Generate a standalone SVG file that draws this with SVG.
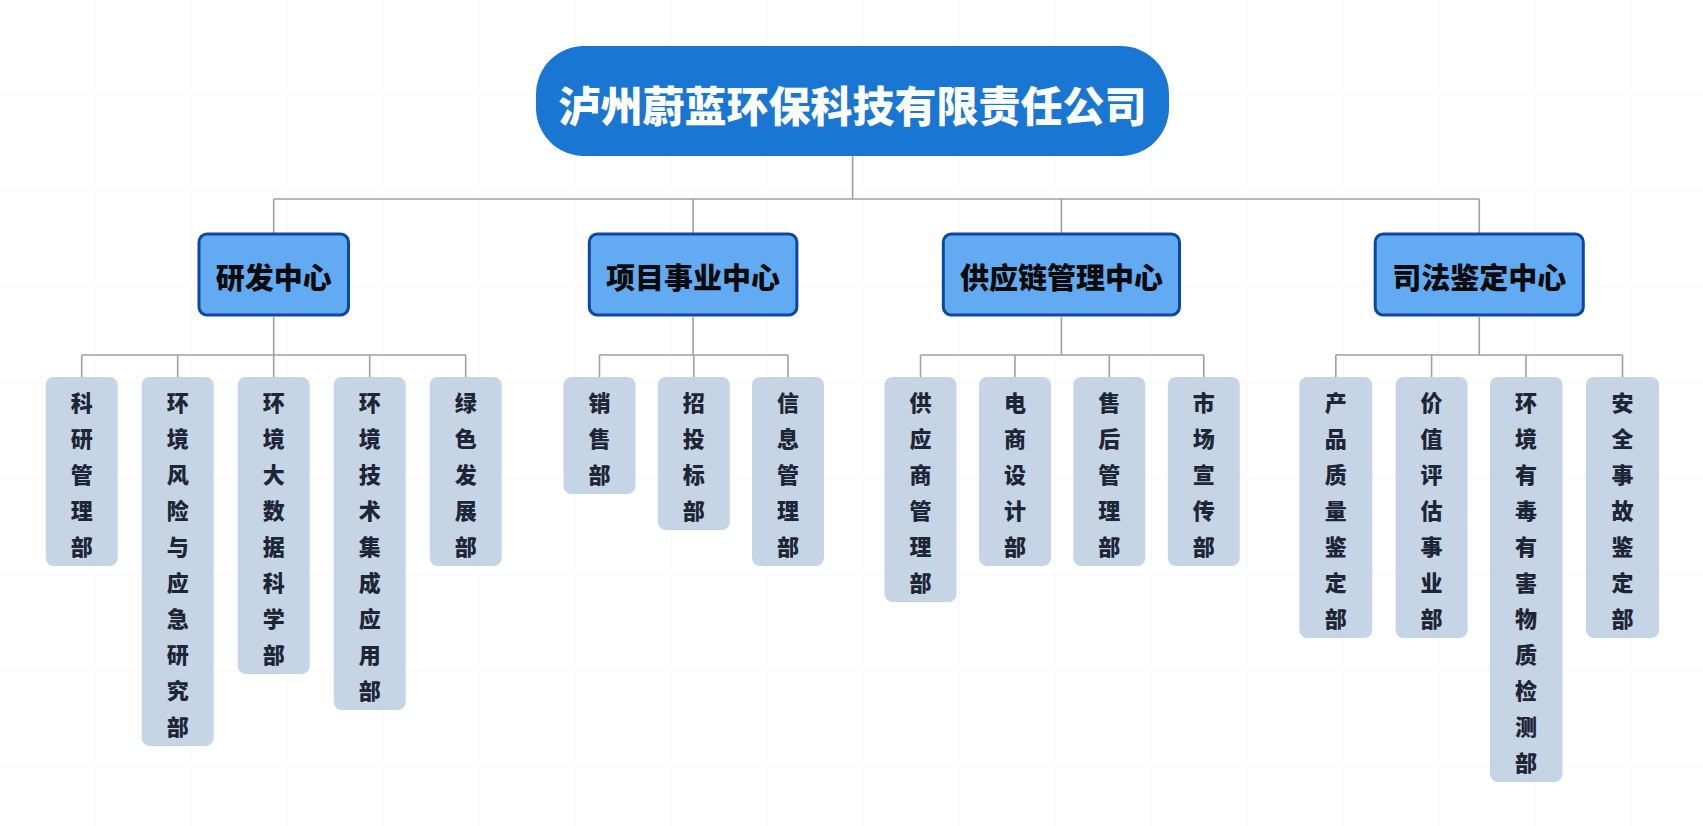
<svg xmlns="http://www.w3.org/2000/svg" width="1703" height="826" viewBox="0 0 1703 826">
<defs>
<pattern id="grid" width="96" height="96" patternUnits="userSpaceOnUse">
<path d="M96 0 V96 M0 96 H96" fill="none" stroke="#f8f8f9" stroke-width="1.5"/>
</pattern>
</defs>
<style>
.cn{font-family:"Noto Sans CJK SC","Noto Sans",sans-serif;font-weight:900;text-anchor:middle;dominant-baseline:central}
.root rect{fill:#1976d2}
.root text{fill:#ffffff;font-size:42px}
.l2 rect{fill:#62aaf2;stroke:#0d47a1;stroke-width:3}
.l2 text{fill:#0a0a0a;font-size:29px}
.leaf rect{fill:#c5d5e6}
.leaf text{fill:#1e2537;font-size:22px}
.conn path{fill:none;stroke:#a0a0a0;stroke-width:1.6}
</style>
<rect width="1703" height="826" fill="#ffffff"/>
<rect width="1703" height="826" fill="url(#grid)"/>

<g class="conn" id="connectors">
<path d="M852.6 155 V199 M273.7 199 H1479.3 M273.7 199 V233 M693.1 199 V233 M1061.4 199 V233 M1479.3 199 V233"/>
<path d="M273.7 317 V355 M81.7 355 H465.7 M81.7 355 V377 M177.7 355 V377 M273.7 355 V377 M369.7 355 V377 M465.7 355 V377"/>
<path d="M693.1 317 V355 M599.5 355 H788 M599.5 355 V377 M693.8 355 V377 M788 355 V377"/>
<path d="M1061.4 317 V355 M920.5 355 H1203.8 M920.5 355 V377 M1015 355 V377 M1109.3 355 V377 M1203.8 355 V377"/>
<path d="M1479.3 317 V355 M1335.8 355 H1622.5 M1335.8 355 V377 M1431.6 355 V377 M1526 355 V377 M1622.5 355 V377"/>
</g>

<g class="root" id="root">
<rect x="536" y="46" width="633" height="110" rx="48"/>
<text class="cn" x="852.6" y="103">泸州蔚蓝环保科技有限责任公司</text>
</g>

<g class="l2" id="n-rd">
<rect x="199" y="234" width="149.5" height="81" rx="8"/>
<text class="cn" x="273.7" y="276">研发中心</text>
</g>
<g class="l2" id="n-proj">
<rect x="589.3" y="234" width="207.6" height="81" rx="8"/>
<text class="cn" x="693.1" y="276">项目事业中心</text>
</g>
<g class="l2" id="n-supply">
<rect x="943.3" y="234" width="236.2" height="81" rx="8"/>
<text class="cn" x="1061.4" y="276">供应链管理中心</text>
</g>
<g class="l2" id="n-judicial">
<rect x="1375.2" y="234" width="208.1" height="81" rx="8"/>
<text class="cn" x="1479.3" y="276">司法鉴定中心</text>
</g>

<g class="leaf" id="n-keyan">
<rect x="45.7" y="377" width="72" height="189" rx="8"/>
<text class="cn"><tspan x="81.7" y="401">科</tspan><tspan x="81.7" y="437">研</tspan><tspan x="81.7" y="473">管</tspan><tspan x="81.7" y="509">理</tspan><tspan x="81.7" y="545">部</tspan></text>
</g>
<g class="leaf" id="n-fengxian">
<rect x="141.7" y="377" width="72" height="369" rx="8"/>
<text class="cn"><tspan x="177.7" y="401">环</tspan><tspan x="177.7" y="437">境</tspan><tspan x="177.7" y="473">风</tspan><tspan x="177.7" y="509">险</tspan><tspan x="177.7" y="545">与</tspan><tspan x="177.7" y="581">应</tspan><tspan x="177.7" y="617">急</tspan><tspan x="177.7" y="653">研</tspan><tspan x="177.7" y="689">究</tspan><tspan x="177.7" y="725">部</tspan></text>
</g>
<g class="leaf" id="n-dashuju">
<rect x="237.7" y="377" width="72" height="297" rx="8"/>
<text class="cn"><tspan x="273.7" y="401">环</tspan><tspan x="273.7" y="437">境</tspan><tspan x="273.7" y="473">大</tspan><tspan x="273.7" y="509">数</tspan><tspan x="273.7" y="545">据</tspan><tspan x="273.7" y="581">科</tspan><tspan x="273.7" y="617">学</tspan><tspan x="273.7" y="653">部</tspan></text>
</g>
<g class="leaf" id="n-jicheng">
<rect x="333.7" y="377" width="72" height="333" rx="8"/>
<text class="cn"><tspan x="369.7" y="401">环</tspan><tspan x="369.7" y="437">境</tspan><tspan x="369.7" y="473">技</tspan><tspan x="369.7" y="509">术</tspan><tspan x="369.7" y="545">集</tspan><tspan x="369.7" y="581">成</tspan><tspan x="369.7" y="617">应</tspan><tspan x="369.7" y="653">用</tspan><tspan x="369.7" y="689">部</tspan></text>
</g>
<g class="leaf" id="n-lvse">
<rect x="429.7" y="377" width="72" height="189" rx="8"/>
<text class="cn"><tspan x="465.7" y="401">绿</tspan><tspan x="465.7" y="437">色</tspan><tspan x="465.7" y="473">发</tspan><tspan x="465.7" y="509">展</tspan><tspan x="465.7" y="545">部</tspan></text>
</g>

<g class="leaf" id="n-xiaoshou">
<rect x="563.5" y="377" width="72" height="117" rx="8"/>
<text class="cn"><tspan x="599.5" y="401">销</tspan><tspan x="599.5" y="437">售</tspan><tspan x="599.5" y="473">部</tspan></text>
</g>
<g class="leaf" id="n-zhaotoubiao">
<rect x="657.8" y="377" width="72" height="153" rx="8"/>
<text class="cn"><tspan x="693.8" y="401">招</tspan><tspan x="693.8" y="437">投</tspan><tspan x="693.8" y="473">标</tspan><tspan x="693.8" y="509">部</tspan></text>
</g>
<g class="leaf" id="n-xinxi">
<rect x="752" y="377" width="72" height="189" rx="8"/>
<text class="cn"><tspan x="788" y="401">信</tspan><tspan x="788" y="437">息</tspan><tspan x="788" y="473">管</tspan><tspan x="788" y="509">理</tspan><tspan x="788" y="545">部</tspan></text>
</g>

<g class="leaf" id="n-gongyingshang">
<rect x="884.5" y="377" width="72" height="225" rx="8"/>
<text class="cn"><tspan x="920.5" y="401">供</tspan><tspan x="920.5" y="437">应</tspan><tspan x="920.5" y="473">商</tspan><tspan x="920.5" y="509">管</tspan><tspan x="920.5" y="545">理</tspan><tspan x="920.5" y="581">部</tspan></text>
</g>
<g class="leaf" id="n-dianshang">
<rect x="979" y="377" width="72" height="189" rx="8"/>
<text class="cn"><tspan x="1015" y="401">电</tspan><tspan x="1015" y="437">商</tspan><tspan x="1015" y="473">设</tspan><tspan x="1015" y="509">计</tspan><tspan x="1015" y="545">部</tspan></text>
</g>
<g class="leaf" id="n-shouhou">
<rect x="1073.3" y="377" width="72" height="189" rx="8"/>
<text class="cn"><tspan x="1109.3" y="401">售</tspan><tspan x="1109.3" y="437">后</tspan><tspan x="1109.3" y="473">管</tspan><tspan x="1109.3" y="509">理</tspan><tspan x="1109.3" y="545">部</tspan></text>
</g>
<g class="leaf" id="n-shichang">
<rect x="1167.8" y="377" width="72" height="189" rx="8"/>
<text class="cn"><tspan x="1203.8" y="401">市</tspan><tspan x="1203.8" y="437">场</tspan><tspan x="1203.8" y="473">宣</tspan><tspan x="1203.8" y="509">传</tspan><tspan x="1203.8" y="545">部</tspan></text>
</g>

<g class="leaf" id="n-chanpin">
<rect x="1299.3" y="377" width="73" height="261" rx="8"/>
<text class="cn"><tspan x="1335.8" y="401">产</tspan><tspan x="1335.8" y="437">品</tspan><tspan x="1335.8" y="473">质</tspan><tspan x="1335.8" y="509">量</tspan><tspan x="1335.8" y="545">鉴</tspan><tspan x="1335.8" y="581">定</tspan><tspan x="1335.8" y="617">部</tspan></text>
</g>
<g class="leaf" id="n-jiazhi">
<rect x="1395.6" y="377" width="72" height="261" rx="8"/>
<text class="cn"><tspan x="1431.6" y="401">价</tspan><tspan x="1431.6" y="437">值</tspan><tspan x="1431.6" y="473">评</tspan><tspan x="1431.6" y="509">估</tspan><tspan x="1431.6" y="545">事</tspan><tspan x="1431.6" y="581">业</tspan><tspan x="1431.6" y="617">部</tspan></text>
</g>
<g class="leaf" id="n-youdu">
<rect x="1490" y="377" width="72.5" height="405" rx="8"/>
<text class="cn"><tspan x="1526" y="401">环</tspan><tspan x="1526" y="437">境</tspan><tspan x="1526" y="473">有</tspan><tspan x="1526" y="509">毒</tspan><tspan x="1526" y="545">有</tspan><tspan x="1526" y="581">害</tspan><tspan x="1526" y="617">物</tspan><tspan x="1526" y="653">质</tspan><tspan x="1526" y="689">检</tspan><tspan x="1526" y="725">测</tspan><tspan x="1526" y="761">部</tspan></text>
</g>
<g class="leaf" id="n-anquan">
<rect x="1586" y="377" width="73" height="261" rx="8"/>
<text class="cn"><tspan x="1622.5" y="401">安</tspan><tspan x="1622.5" y="437">全</tspan><tspan x="1622.5" y="473">事</tspan><tspan x="1622.5" y="509">故</tspan><tspan x="1622.5" y="545">鉴</tspan><tspan x="1622.5" y="581">定</tspan><tspan x="1622.5" y="617">部</tspan></text>
</g>
</svg>
